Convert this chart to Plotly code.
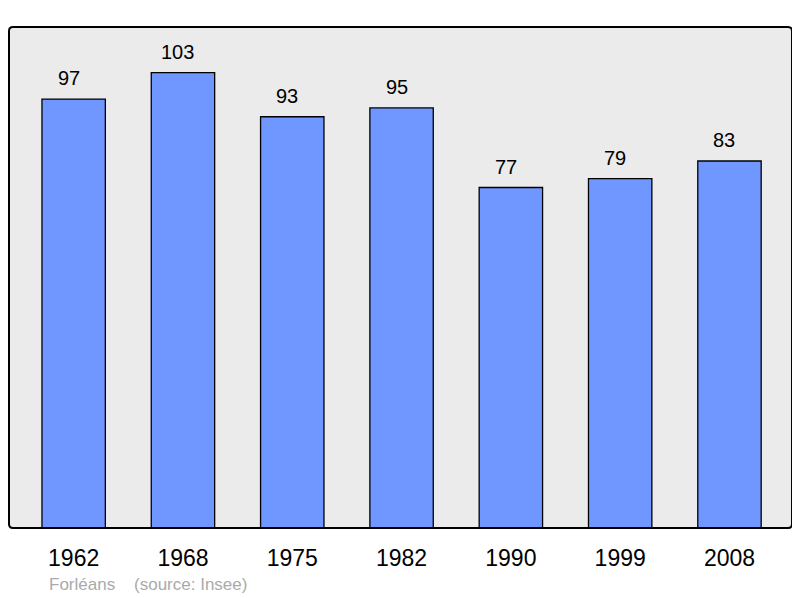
import plotly.graph_objects as go

years = ["1962", "1968", "1975", "1982", "1990", "1999", "2008"]
population = [97, 103, 93, 95, 77, 79, 83]

# page has an 8px body margin; figure sized/positioned accordingly
W, H = 786, 590
L, T = 1, 19
pw, ph = 783, 501
R, B = W - L - pw, H - T - ph

fig = go.Figure()
fig.add_trace(go.Bar(
    x=years, y=population,
    marker=dict(color="#7096ff", line=dict(color="#000000", width=1.3)),
    width=0.58,
    hoverinfo="x+y",
))

for i, v in enumerate(population):
    fig.add_annotation(x=i, y=v, text=str(v), showarrow=False,
                       yanchor="bottom", yshift=8, xshift=-5,
                       font=dict(family="Liberation Sans, Arial", size=20, color="#000"))

# rounded frame
r = 4
rx, ry = r / pw, r / ph
path = (f"M {rx},0 L {1-rx},0 Q 1,0 1,{ry} L 1,{1-ry} Q 1,1 {1-rx},1 "
        f"L {rx},1 Q 0,1 0,{1-ry} L 0,{ry} Q 0,0 {rx},0 Z")
fig.add_shape(type="path", path=path, xref="paper", yref="paper",
              line=dict(color="#000000", width=2), layer="above")

fig.add_annotation(xref="paper", yref="paper", x=(47 - 8 - L) / pw, y=-(584 - 8 - T - ph) / ph,
                   xanchor="left", yanchor="middle", showarrow=False,
                   text="Forléans&nbsp;&nbsp;&nbsp;&nbsp;(source: Insee)",
                   font=dict(family="Liberation Sans, Arial", size=17, color="#aaaaaa"))

fig.update_layout(
    width=W, height=H,
    margin=dict(l=L, r=R, t=T, b=B, pad=0),
    paper_bgcolor="#ffffff",
    plot_bgcolor="#ebebeb",
    showlegend=False,
    font=dict(family="Liberation Sans, Arial", color="#000"),
    xaxis=dict(type="category", range=[-0.5915, 6.572], showgrid=False, zeroline=False,
               ticks="outside", ticklen=9, tickcolor="rgba(0,0,0,0)",
               tickfont=dict(size=23, color="#000"), showline=False, fixedrange=True),
    yaxis=dict(range=[0, 113.3], showgrid=False, zeroline=False, showticklabels=False,
               showline=False, fixedrange=True),
)

fig.write_html("out.html")
